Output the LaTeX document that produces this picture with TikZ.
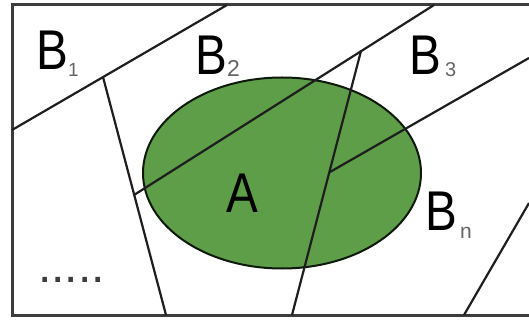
\documentclass[tikz,border=0pt]{standalone}
\usepackage{fontspec}
\setmainfont{Liberation Sans}
\usetikzlibrary{shapes.geometric}
\definecolor{agreen}{RGB}{94,158,72}
\definecolor{lineblack}{RGB}{30,30,30}
\definecolor{framegray}{RGB}{60,60,60}
\definecolor{subgray}{RGB}{100,100,100}
\begin{document}
\begin{tikzpicture}[x=1pt,y=-1pt,
  sep/.style={draw=lineblack,line width=2.2pt},
  bigletter/.style={inner sep=0pt,anchor=base west,font=\fontsize{56}{56}\selectfont,xscale=0.85,text=black},
  subletter/.style={inner sep=0pt,anchor=base west,text=subgray},
]
\useasboundingbox (0,0) rectangle (529,320);
% set A
\node[draw=black!85!agreen,line width=2pt,fill=agreen,ellipse,minimum width=278pt,minimum height=191pt,inner sep=0pt] (setA) at (282,173) {};
% frame
\draw[draw=framegray,line width=3pt] (529,5) -- (12,5) -- (12,315) -- (529,315);
% partition lines
\coordinate (l1a) at (12,130);
\coordinate (l1b) at (227,5);
\coordinate (q1) at (103,77);
\coordinate (l2b) at (166,315);
\coordinate (l3a) at (434,5);
\coordinate (r1) at (134,195);
\coordinate (s1) at (361,51);
\coordinate (l4b) at (292,315);
\coordinate (l5a) at (529,58);
\coordinate (t1) at (330,172);
\coordinate (l6a) at (464,315);
\coordinate (l6b) at (529,203);
\draw[sep] (l1a) -- (l1b);
\draw[sep] (q1) -- (l2b);
\draw[sep] (l3a) -- (r1);
\draw[sep] (s1) -- (l4b);
\draw[sep] (l5a) -- (t1);
\draw[sep] (l6a) -- (l6b);
% labels
\node[bigletter] (b1) at (36,70) {B};
\node[subletter,font=\fontsize{19}{19}\selectfont] (b1s) at (68,77) {1};
\node[bigletter] (b2) at (195,75) {B};
\node[subletter,font=\fontsize{23}{23}\selectfont] (b2s) at (227,77) {2};
\node[bigletter] (b3) at (409,75) {B};
\node[subletter,font=\fontsize{20}{20}\selectfont] (b3s) at (445,77) {3};
\node[bigletter] (bn) at (425,230) {B};
\node[subletter,font=\fontsize{21}{21}\selectfont] (bns) at (460,238) {n};
\node[bigletter] (a) at (226,212) {A};
\node[inner sep=0pt,anchor=base west,font=\fontsize{48}{48}\selectfont,text=framegray] (dots) at (38,282) {.....};
\end{tikzpicture}
\end{document}
